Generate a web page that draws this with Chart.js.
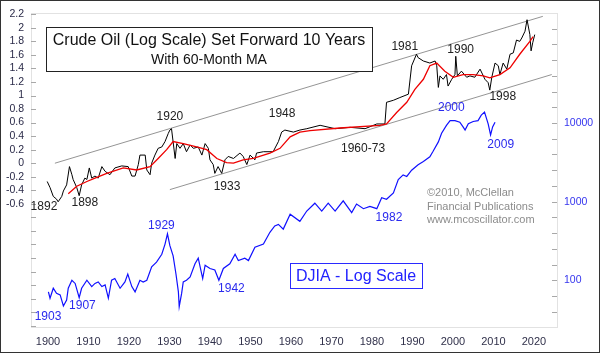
<!DOCTYPE html>
<html>
<head>
<meta charset="utf-8">
<script src="https://cdn.jsdelivr.net/npm/chart.js@4"></script>
<style>
  html, body { margin: 0; padding: 0; background: #fff; }
  #wrap { width: 600px; height: 353px; position: relative; }
</style>
</head>
<body>
<div id="wrap"><canvas id="myChart"></canvas></div>
<script>
// crude oil, log10 of price, by oil year (plotted 10 years later)
const oilYears = [1889.8, 1890.5, 1891.3, 1892.1, 1892.5, 1893.4, 1893.8, 1894.6, 1895.3, 1895.9,
    1896.2, 1897.1, 1897.7, 1898.3, 1899.1, 1899.6, 1900.2, 1900.8, 1901.6, 1902.4,
    1903.3, 1904.1, 1905.3, 1906.5, 1908.2, 1909.8, 1910.7, 1911.5, 1912.3, 1912.7,
    1914.0, 1914.4, 1915.2, 1915.6, 1916.4, 1917.2, 1918.1, 1918.9, 1919.7, 1920.1,
    1920.5, 1921.4, 1921.8, 1922.6, 1923.4, 1924.2, 1925.1, 1925.9, 1927.1, 1928.0,
    1928.8, 1929.6, 1930.0, 1930.8, 1931.2, 1932.0, 1932.9, 1933.7, 1934.5, 1935.8,
    1937.4, 1938.2, 1939.1, 1939.9, 1941.1, 1941.5, 1943.2, 1945.6, 1946.9, 1947.7,
    1948.5, 1950.6, 1952.2, 1953.9, 1957.2, 1960.9, 1964.6, 1968.3, 1971.2, 1973.2,
    1973.6, 1975.3, 1976.9, 1979.0, 1979.8, 1981.0, 1981.4, 1982.7, 1984.3, 1985.6,
    1986.0, 1986.4, 1986.8, 1987.6, 1988.4, 1988.8, 1989.7, 1990.5, 1990.7, 1991.1,
    1992.1, 1993.4, 1994.2, 1995.4, 1996.7, 1997.9, 1998.7, 1999.1, 1999.6, 2000.4,
    2001.2, 2001.6, 2002.4, 2003.3, 2004.1, 2004.9, 2005.7, 2006.5, 2007.0, 2007.8,
    2008.3, 2009.0, 2009.3, 2009.7, 2010.2];
const oilLog = [-0.27, -0.36, -0.49, -0.53, -0.57, -0.49, -0.41, -0.32, -0.05, -0.17,
    -0.24, -0.36, -0.48, -0.32, -0.22, -0.24, -0.07, -0.22, -0.19, -0.22,
    -0.05, -0.12, -0.17, -0.07, -0.04, -0.05, -0.19, -0.19, -0.02, 0.12,
    0.12, -0.10, -0.17, 0.00, 0.12, 0.22, 0.24, 0.32, 0.44, 0.49,
    0.51, 0.07, 0.29, 0.22, 0.29, 0.17, 0.27, 0.22, 0.24, 0.12,
    0.29, 0.22, 0.05, -0.02, -0.15, -0.05, -0.15, 0.05, 0.10, 0.07,
    0.15, 0.10, -0.02, 0.12, 0.05, 0.15, 0.17, 0.17, 0.32, 0.46,
    0.49, 0.46, 0.49, 0.51, 0.56, 0.51, 0.53, 0.51, 0.58, 0.58,
    0.90, 0.93, 0.97, 1.02, 1.44, 1.61, 1.56, 1.51, 1.48, 1.51,
    1.44, 1.12, 1.29, 1.24, 1.31, 1.14, 1.24, 1.31, 1.58, 1.29,
    1.36, 1.27, 1.29, 1.27, 1.39, 1.24, 1.19, 1.08, 1.27, 1.48,
    1.44, 1.31, 1.48, 1.39, 1.61, 1.63, 1.82, 1.80, 1.85, 1.95,
    2.12, 1.90, 1.66, 1.78, 1.90];

// 60-month moving average of oil
const maYears = [1895.0, 1897.1, 1899.6, 1901.6, 1904.5, 1908.6, 1911.9, 1915.2, 1917.2, 1919.3,
    1920.9, 1923.4, 1926.7, 1929.2, 1931.7, 1934.1, 1935.8, 1938.2, 1940.7, 1944.8,
    1947.3, 1949.8, 1952.2, 1954.7, 1962.1, 1972.0, 1973.6, 1976.1, 1978.6, 1980.6,
    1982.7, 1984.3, 1986.0, 1988.0, 1990.1, 1992.5, 1995.0, 1997.5, 1999.1, 2001.6,
    2004.1, 2006.5, 2009.0, 2009.8];
const maLog = [-0.45, -0.34, -0.27, -0.22, -0.15, -0.07, -0.10, -0.05, 0.07, 0.20,
    0.32, 0.29, 0.24, 0.20, 0.07, 0.01, 0.00, 0.05, 0.07, 0.15,
    0.22, 0.39, 0.46, 0.48, 0.52, 0.56, 0.58, 0.75, 0.90, 1.09,
    1.24, 1.44, 1.48, 1.36, 1.27, 1.31, 1.31, 1.29, 1.26, 1.31,
    1.41, 1.61, 1.80, 1.87];

// channel lines drawn on the oil data (oil years)
const upperTrendYears = [1891.7, 2012.2];
const upperTrendLog = [0.0, 2.17];
const lowerTrendYears = [1920.1, 2014.4];
const lowerTrendLog = [-0.39, 1.31];

// Dow Jones Industrial Average
const djiaYears = [1900.1, 1900.5, 1901.3, 1902.1, 1903.0, 1903.8, 1904.6, 1905.0, 1905.9, 1906.7,
    1907.7, 1908.3, 1909.6, 1910.8, 1911.6, 1912.4, 1913.3, 1914.1, 1914.9, 1915.7,
    1916.5, 1917.8, 1919.0, 1919.7, 1920.7, 1921.5, 1922.7, 1923.5, 1924.4, 1925.6,
    1926.8, 1928.1, 1928.9, 1929.5, 1930.1, 1930.9, 1931.6, 1932.2, 1932.4, 1933.0,
    1933.4, 1934.2, 1935.1, 1936.3, 1937.1, 1938.2, 1938.8, 1940.0, 1941.2, 1942.2,
    1943.3, 1944.9, 1946.2, 1947.0, 1948.6, 1949.5, 1951.1, 1953.2, 1954.8, 1956.0,
    1956.9, 1958.1, 1959.8, 1962.2, 1963.9, 1965.9, 1967.6, 1969.2, 1970.9, 1972.9,
    1975.0, 1976.2, 1977.9, 1979.5, 1981.2, 1982.4, 1983.6, 1985.3, 1986.5, 1987.7,
    1988.6, 1989.8, 1991.4, 1992.7, 1994.3, 1995.1, 1996.4, 1997.2, 1998.4, 1999.3,
    2000.5, 2001.7, 2002.5, 2003.0, 2003.8, 2005.0, 2006.2, 2007.0, 2007.8, 2008.7,
    2009.3, 2009.8, 2010.4];
const djiaValues = [71, 59, 79, 68, 65, 47, 56, 79, 100, 91,
    60, 79, 100, 83, 91, 95, 83, 87, 59, 100,
    105, 79, 95, 120, 83, 71, 100, 95, 100, 148,
    170, 214, 288, 389, 275, 204, 120, 71, 46, 68,
    95, 100, 110, 162, 191, 105, 155, 141, 135, 100,
    141, 162, 214, 178, 191, 178, 263, 288, 407, 490,
    513, 447, 692, 562, 759, 955, 759, 955, 759, 1023,
    724, 933, 813, 871, 813, 1122, 1072, 1288, 1905, 2188,
    2089, 2512, 2951, 3236, 3715, 4365, 5754, 7413, 9333, 10715,
    10715, 10233, 8913, 8128, 9772, 10471, 10715, 12589, 13804, 9772,
    7079, 8913, 10233];

const oilShift = 10;
const xTicks = [1900, 1910, 1920, 1930, 1940, 1950, 1960, 1970, 1980, 1990, 2000, 2010, 2020];
const oilTicks = [-2.4, -2.2, -2, -1.8, -1.6, -1.4, -1.2, -1, -0.8, -0.6, -0.4, -0.2, 0,
    0.2, 0.4, 0.6, 0.8, 1, 1.2, 1.4, 1.6, 1.8, 2, 2.2];
const oilTickLabelMin = -0.6;
const djiaTickLabels = [100, 1000, 10000];

// year labels: [text, year, value]
const oilNotes = [['1892', 1899.0, -0.647], ['1898', 1909.1, -0.588], ['1920', 1930.1, 0.682],
    ['1933', 1944.2, -0.34], ['1948', 1957.8, 0.726], ['1960-73', 1977.8, 0.219],
    ['1981', 1988.1, 1.718], ['1990', 2001.9, 1.679], ['1998', 2012.3, 0.984]];
const djiaNotes = [['2000', 1999.6, 15560], ['2009', 2011.8, 5333], ['1982', 1984.2, 625],
    ['1929', 1928.0, 492], ['1903', 1900.0, 34.5], ['1907', 1908.5, 47.1], ['1942', 1945.3, 78.7]];

const FONT = '"Liberation Sans", Arial, sans-serif';

function toPoints(xs, ys, shift) {
    return xs.map((x, i) => ({ x: x + shift, y: ys[i] }));
}

const overlay = {
    id: 'overlay',
    beforeDraw(chart) {
        const ctx = chart.ctx;
        ctx.save();
        ctx.fillStyle = '#ffffff';
        ctx.fillRect(0, 0, chart.width, chart.height);
        ctx.restore();
    },
    afterDatasetsDraw(chart) {
        const { ctx, chartArea: a, scales } = chart;
        ctx.save();

        // dotted frame
        ctx.strokeStyle = '#c4c4c4';
        ctx.lineWidth = 1;
        ctx.setLineDash([1, 1]);
        ctx.strokeRect(Math.round(a.left) + 0.5, Math.round(a.top) + 0.5,
            Math.round(a.right - a.left), Math.round(a.bottom - a.top));
        ctx.setLineDash([]);

        // inner tick marks
        ctx.strokeStyle = '#a8a8a8';
        ctx.beginPath();
        scales.y.ticks.forEach((t) => {
            const py = Math.round(scales.y.getPixelForValue(t.value)) + 0.5;
            ctx.moveTo(a.left, py);
            ctx.lineTo(a.left + 5, py);
        });
        scales.y2.ticks.forEach((t) => {
            const py = Math.round(scales.y2.getPixelForValue(t.value)) + 0.5;
            ctx.moveTo(a.right - 5, py);
            ctx.lineTo(a.right, py);
        });
        ctx.stroke();

        // title box
        ctx.fillStyle = '#ffffff';
        ctx.fillRect(46, 27, 326, 44);
        ctx.strokeStyle = '#222';
        ctx.strokeRect(46.5, 27.5, 326, 44);
        ctx.fillStyle = '#111';
        ctx.textAlign = 'center';
        ctx.textBaseline = 'middle';
        ctx.font = '16px ' + FONT;
        ctx.fillText('Crude Oil (Log Scale) Set Forward 10 Years', 209, 41);
        ctx.font = '14px ' + FONT;
        ctx.fillText('With 60-Month MA', 209, 60);

        // DJIA box
        ctx.fillStyle = '#ffffff';
        ctx.fillRect(290, 263, 132, 25);
        ctx.strokeStyle = '#2a2aff';
        ctx.strokeRect(290.5, 263.5, 132, 25);
        ctx.fillStyle = '#2222ff';
        ctx.font = '16px ' + FONT;
        ctx.fillText('DJIA - Log Scale', 356, 276.5);

        // credit
        ctx.fillStyle = '#8c8c8c';
        ctx.font = '11px ' + FONT;
        ctx.textAlign = 'left';
        ctx.fillText('\u00a92010, McClellan', 427, 193);
        ctx.fillText('Financial Publications', 427, 206.5);
        ctx.fillText('www.mcoscillator.com', 427, 220);

        // year labels
        ctx.textAlign = 'center';
        ctx.font = '12px ' + FONT;
        ctx.fillStyle = '#222';
        oilNotes.forEach(([txt, yr, v]) => {
            ctx.fillText(txt, scales.x.getPixelForValue(yr), scales.y.getPixelForValue(v));
        });
        ctx.fillStyle = '#2a2aee';
        djiaNotes.forEach(([txt, yr, v]) => {
            ctx.fillText(txt, scales.x.getPixelForValue(yr), scales.y2.getPixelForValue(v));
        });
        ctx.restore();
    },
    afterDraw(chart) {
        const ctx = chart.ctx;
        ctx.save();
        ctx.strokeStyle = '#333';
        ctx.lineWidth = 1;
        ctx.strokeRect(0.5, 0.5, chart.width - 1, chart.height - 1);
        ctx.restore();
    }
};

const data = {
    datasets: [{
        label: '60-Month MA',
        data: toPoints(maYears, maLog, oilShift),
        borderColor: '#ee0000',
        borderWidth: 1.3,
        yAxisID: 'y'
    }, {
        label: 'Crude Oil',
        data: toPoints(oilYears, oilLog, oilShift),
        borderColor: '#000000',
        borderWidth: 1,
        yAxisID: 'y'
    }, {
        label: 'DJIA',
        data: toPoints(djiaYears, djiaValues, 0),
        borderColor: '#1010ff',
        borderWidth: 1.2,
        yAxisID: 'y2'
    }, {
        label: 'Upper channel',
        data: toPoints(upperTrendYears, upperTrendLog, oilShift),
        borderColor: '#959595',
        borderWidth: 1,
        yAxisID: 'y'
    }, {
        label: 'Lower channel',
        data: toPoints(lowerTrendYears, lowerTrendLog, oilShift),
        borderColor: '#959595',
        borderWidth: 1,
        yAxisID: 'y'
    }]
};

const config = {
    type: 'line',
    data: data,
    options: {
        responsive: true,
        maintainAspectRatio: false,
        animation: false,
        events: [],
        layout: { padding: { top: 10 } },
        elements: { point: { radius: 0 }, line: { tension: 0 } },
        plugins: { legend: { display: false }, tooltip: { enabled: false } },
        scales: {
            x: {
                type: 'linear',
                min: 1895.8,
                max: 2025.7,
                grid: { display: false, drawTicks: false },
                border: { display: false },
                afterBuildTicks: (axis) => { axis.ticks = xTicks.map((v) => ({ value: v })); },
                afterFit: (axis) => { axis.height = 26; },
                ticks: {
                    autoSkip: false, maxRotation: 0, padding: 8,
                    color: '#30304a', font: { family: FONT, size: 11 },
                    callback: (v) => String(v)
                }
            },
            y: {
                type: 'linear',
                position: 'left',
                min: -2.42,
                max: 2.215,
                grid: { display: false, drawTicks: false },
                border: { display: false },
                afterBuildTicks: (axis) => { axis.ticks = oilTicks.map((v) => ({ value: v })); },
                afterFit: (axis) => { axis.width = 31; },
                ticks: {
                    autoSkip: false, padding: 7,
                    color: '#2a2a48', font: { family: FONT, size: 10.5 },
                    callback: (v) => (v >= oilTickLabelMin - 1e-6 ? String(Math.round(v * 10) / 10) : '')
                }
            },
            y2: {
                type: 'logarithmic',
                position: 'right',
                min: 25.4,
                max: 248900,
                grid: { display: false, drawTicks: false },
                border: { display: false },
                afterBuildTicks: (axis) => {
                    const t = [];
                    for (let k = 8; k <= 26; k++) t.push({ value: Math.pow(10, k / 5) });
                    axis.ticks = t;
                },
                afterFit: (axis) => { axis.width = 43; },
                ticks: {
                    autoSkip: false, padding: 7,
                    color: '#3535ee', font: { family: FONT, size: 10.5 },
                    callback: (v) => {
                        const hit = djiaTickLabels.find((d) => Math.abs(d - v) / d < 1e-6);
                        return hit ? String(hit) : '';
                    }
                }
            }
        }
    },
    plugins: [overlay]
};

const myChart = new Chart(
    document.getElementById('myChart'),
    config
);
</script>
</body>
</html>
